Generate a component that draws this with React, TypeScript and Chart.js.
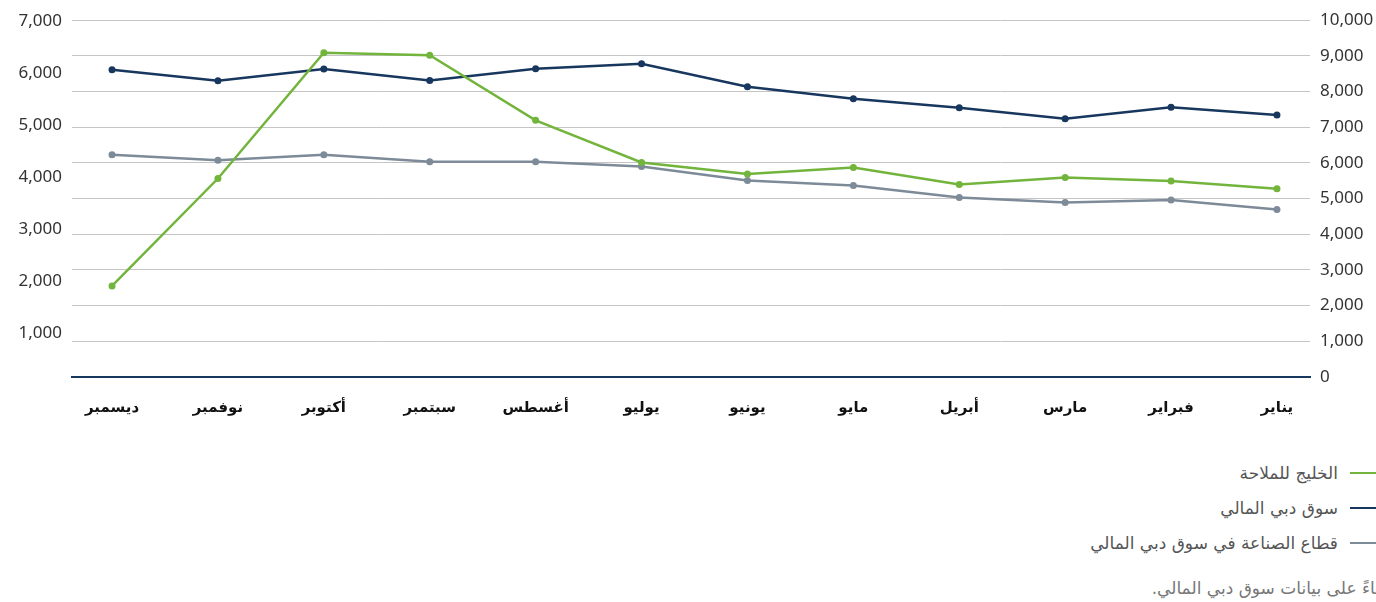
import React, { useEffect, useRef } from "react";
import { Chart, registerables } from "chart.js";

Chart.register(...registerables);

// Months, chronological (axis is reversed, RTL)
const months = ["يناير", "فبراير", "مارس", "أبريل", "مايو", "يونيو", "يوليو", "أغسطس", "سبتمبر", "أكتوبر", "نوفمبر", "ديسمبر"];

// Values, January → December
const gulfNavigation = [5275, 5493, 5591, 5396, 5871, 5689, 6011, 7193, 9021, 9086, 5563, 2552];
const dfmIndex = [7344, 7562, 7241, 7548, 7800, 8135, 8778, 8638, 8312, 8630, 8303, 8611];
const industrySector = [4697, 4962, 4892, 5032, 5368, 5507, 5899, 6030, 6030, 6226, 6075, 6226];

const seriesNames = ["الخليج للملاحة", "سوق دبي المالي", "قطاع الصناعة في سوق دبي المالي"];
const colors = ["#72b43c", "#17375e", "#7d8a98"];

const leftTicks = [1000, 2000, 3000, 4000, 5000, 6000, 7000];
const rightTicks = [0, 1000, 2000, 3000, 4000, 5000, 6000, 7000, 8000, 9000, 10000];

const sourceNote = "بناءً على بيانات سوق دبي المالي.";

const toPoints = (arr: number[]) => arr.map((v, i) => ({ x: i, y: v }));

export default function App() {
  const ref = useRef<HTMLCanvasElement | null>(null);

  useEffect(() => {
    if (!ref.current) return;
    const allSeries = [gulfNavigation, dfmIndex, industrySector];
    const chart = new Chart(ref.current, {
      type: "line",
      data: {
        datasets: allSeries.map((s, k) => ({
          label: seriesNames[k],
          data: toPoints(s),
          borderColor: colors[k],
          backgroundColor: colors[k],
          borderWidth: 2.5,
          pointRadius: 3.5,
          pointHoverRadius: 3.5,
          pointBorderWidth: 0,
          tension: 0,
          yAxisID: "yR",
          xAxisID: "x",
        })),
      },
      options: {
        animation: false,
        responsive: true,
        maintainAspectRatio: false,
        layout: { padding: 0 },
        plugins: {
          legend: { display: false },
          tooltip: { enabled: false },
        },
        scales: {
          x: {
            type: "linear",
            reverse: true,
            min: -0.312,
            max: 11.378,
            grid: { display: false, drawTicks: false },
            border: { display: true, color: "#17375e", width: 2 },
            afterBuildTicks: (axis: any) => {
              axis.ticks = months.map((_, i) => ({ value: i }));
            },
            afterFit: (axis: any) => {
              axis.height = 63;
            },
            ticks: {
              autoSkip: false,
              maxRotation: 0,
              padding: 22,
              color: "#111",
              font: { family: "'DejaVu Sans', 'Noto Sans'", size: 15, weight: "bold" },
              callback: (v: any) => months[v as number] ?? "",
            },
          },
          yL: {
            type: "linear",
            position: "left",
            min: 157,
            max: 7013,
            grid: { display: false, drawTicks: false },
            border: { display: false },
            afterBuildTicks: (axis: any) => {
              axis.ticks = leftTicks.map((v) => ({ value: v }));
            },
            afterFit: (axis: any) => {
              axis.width = 72;
            },
            ticks: {
              padding: 10,
              color: "#333",
              font: { family: "'Noto Sans'", size: 17 },
              callback: (v: any) => Number(v).toLocaleString("en-US"),
            },
          },
          yR: {
            type: "linear",
            position: "right",
            min: 0,
            max: 10000,
            grid: { color: "#c4c4c4", lineWidth: 1, drawTicks: false },
            border: { display: false },
            afterBuildTicks: (axis: any) => {
              axis.ticks = rightTicks.map((v) => ({ value: v }));
            },
            afterFit: (axis: any) => {
              axis.width = 66;
            },
            ticks: {
              padding: 10,
              color: "#333",
              font: { family: "'Noto Sans'", size: 17 },
              callback: (v: any) => Number(v).toLocaleString("en-US"),
            },
          },
        },
      },
    });
    return () => chart.destroy();
  }, []);

  return (
    <div style={{ position: "fixed", left: 0, top: 0, width: 1376, height: 602, overflow: "hidden", background: "#fff" }}>
      <div style={{ position: "absolute", left: 0, top: 0, width: 1376, height: 440 }}>
        <canvas ref={ref} />
      </div>
      <div style={{ position: "absolute", right: 0, top: 455, direction: "rtl", fontFamily: "'DejaVu Sans', 'Noto Sans'", fontSize: 17, color: "#555" }}>
        {seriesNames.map((n, k) => (
          <div key={n} style={{ display: "flex", alignItems: "center", height: 35 }}>
            <span style={{ display: "inline-block", width: 26, height: 2, background: colors[k], marginLeft: 12 }} />
            <span>{n}</span>
          </div>
        ))}
      </div>
      <div style={{ position: "absolute", right: -9, top: 578, direction: "rtl", whiteSpace: "nowrap", fontFamily: "'DejaVu Sans', 'Noto Sans'", fontSize: 17, color: "#777" }}>
        {sourceNote}
      </div>
    </div>
  );
}
